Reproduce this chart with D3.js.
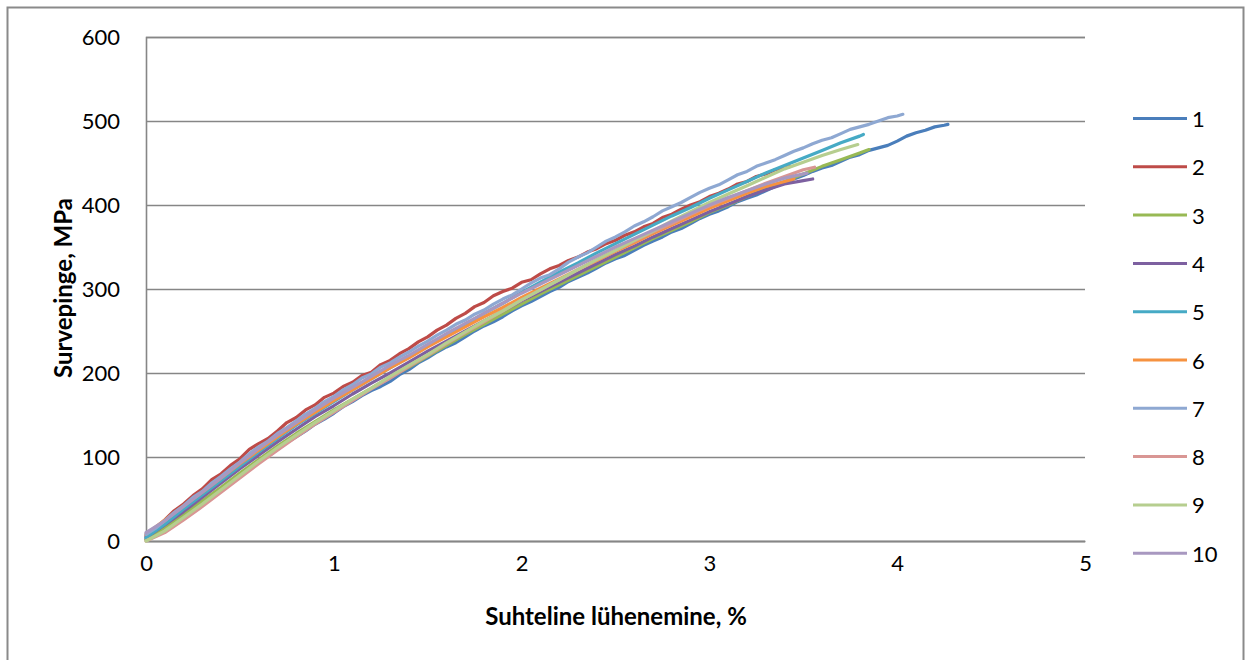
<!DOCTYPE html>
<html>
<head>
<meta charset="utf-8">
<script src="https://cdnjs.cloudflare.com/ajax/libs/d3/7.8.5/d3.min.js"></script>
<style>
  html, body { margin: 0; padding: 0; background: #ffffff; }
  svg { display: block; }
  text { font-family: Lato, "Open Sans", "Liberation Sans", sans-serif; fill: #000; }
</style>
</head>
<body>
<svg id="chart" width="1245" height="660"></svg>
<script>
// Compression tests: relative shortening (%) vs. compressive stress (MPa), ten specimens
const seriesNames = ["1", "2", "3", "4", "5", "6", "7", "8", "9", "10"];
const seriesColors = ["#4A7EBB", "#BE4B48", "#98B954", "#7D60A0", "#46AAC5",
                      "#F69240", "#8EA8D2", "#D99694", "#B6CE8F", "#A898C0"];

const xTicks = [0, 1, 2, 3, 4, 5];
const yTicks = [0, 100, 200, 300, 400, 500, 600];

// [strain %, stress MPa]
const s1 = [[0,2],[0.05,7],[0.1,14],[0.15,22],[0.2,29],[0.25,38],[0.3,45],[0.35,53],[0.4,61],[0.45,70],
  [0.5,77],[0.55,86],[0.6,94],[0.65,101],[0.7,109],[0.75,117],[0.8,124],[0.85,131],[0.9,139],[0.95,145],
  [1.0,152],[1.05,160],[1.1,166],[1.15,173],[1.2,179],[1.25,184],[1.3,190],[1.35,198],[1.4,204],[1.45,212],
  [1.5,218],[1.55,225],[1.6,231],[1.65,236],[1.7,243],[1.75,250],[1.8,256],[1.85,261],[1.9,267],[1.95,274],
  [2.0,280],[2.05,285],[2.1,291],[2.15,297],[2.2,302],[2.25,309],[2.3,314],[2.35,319],[2.4,325],[2.45,331],
  [2.5,336],[2.55,340],[2.6,346],[2.65,352],[2.7,357],[2.75,362],[2.8,368],[2.85,372],[2.9,378],[2.95,384],
  [3.0,389],[3.05,393],[3.1,398],[3.15,404],[3.2,408],[3.25,412],[3.3,417],[3.35,422],[3.4,426],[3.45,431],
  [3.5,435],[3.55,440],[3.6,444],[3.65,447],[3.7,452],[3.75,457],[3.8,460],[3.85,465],[3.9,468],[3.95,471],
  [4.0,476],[4.05,482],[4.1,486],[4.15,489],[4.2,493],[4.25,495],[4.27,496]];
const s2 = [[0,6],[0.05,15],[0.1,25],[0.15,36],[0.2,44],[0.25,54],[0.3,62],[0.35,73],[0.4,80],[0.45,90],
  [0.5,98],[0.55,109],[0.6,116],[0.65,122],[0.7,131],[0.75,141],[0.8,147],[0.85,156],[0.9,162],[0.95,171],
  [1.0,176],[1.05,184],[1.1,189],[1.15,197],[1.2,201],[1.25,210],[1.3,215],[1.35,223],[1.4,229],[1.45,237],
  [1.5,243],[1.55,251],[1.6,257],[1.65,265],[1.7,271],[1.75,279],[1.8,284],[1.85,292],[1.9,297],[1.95,301],
  [2.0,308],[2.05,311],[2.1,318],[2.15,324],[2.2,328],[2.25,334],[2.3,338],[2.35,344],[2.4,348],[2.45,354],
  [2.5,358],[2.55,364],[2.6,368],[2.65,374],[2.7,378],[2.75,385],[2.8,389],[2.85,395],[2.9,400],[2.95,404],
  [3.0,410],[3.05,414],[3.1,419],[3.15,425],[3.2,428],[3.25,434],[3.3,437],[3.35,442],[3.4,444],[3.43,446]];
const s3 = [[0,2],[0.1,16],[0.2,32],[0.3,48],[0.4,64],[0.5,81],[0.6,97],[0.7,113],[0.8,128],[0.9,142],
  [1.0,156],[1.1,169],[1.2,182],[1.3,195],[1.4,207],[1.5,220],[1.6,233],[1.7,246],[1.8,258],[1.9,270],
  [2.0,282],[2.1,294],[2.2,305],[2.3,316],[2.4,327],[2.5,338],[2.6,349],[2.7,360],[2.8,370],[2.9,380],
  [3.0,391],[3.1,400],[3.2,410],[3.3,419],[3.4,428],[3.5,437],[3.6,446],[3.7,454],[3.8,462],[3.85,466]];
const s4 = [[0,4],[0.1,19],[0.2,35],[0.3,52],[0.4,69],[0.5,86],[0.6,102],[0.7,118],[0.8,133],[0.9,148],
  [1.0,161],[1.1,175],[1.2,188],[1.3,200],[1.4,213],[1.5,226],[1.6,238],[1.7,250],[1.8,262],[1.9,274],
  [2.0,286],[2.1,297],[2.2,308],[2.3,319],[2.4,330],[2.5,341],[2.6,351],[2.7,362],[2.8,372],[2.9,382],
  [3.0,392],[3.1,401],[3.2,410],[3.3,418],[3.4,425],[3.5,429],[3.55,431]];
const s5 = [[0,4],[0.1,20],[0.2,38],[0.3,55],[0.4,72],[0.5,89],[0.6,106],[0.7,122],[0.8,138],[0.9,152],
  [1.0,166],[1.1,180],[1.2,193],[1.3,206],[1.4,219],[1.5,232],[1.6,245],[1.7,258],[1.8,271],[1.9,283],
  [2.0,296],[2.1,308],[2.2,320],[2.3,331],[2.4,343],[2.5,354],[2.6,365],[2.7,376],[2.8,387],[2.9,397],
  [3.0,408],[3.1,418],[3.2,428],[3.3,438],[3.4,447],[3.5,456],[3.6,465],[3.7,474],[3.8,482],[3.82,484]];
const s6 = [[0,8],[0.1,25],[0.2,42],[0.3,58],[0.4,75],[0.5,92],[0.6,108],[0.7,124],[0.8,139],[0.9,153],
  [1.0,167],[1.1,180],[1.2,193],[1.3,206],[1.4,218],[1.5,231],[1.6,243],[1.7,255],[1.8,267],[1.9,278],
  [2.0,290],[2.1,301],[2.2,312],[2.3,323],[2.4,334],[2.5,345],[2.6,355],[2.7,366],[2.8,376],[2.9,386],
  [3.0,396],[3.1,405],[3.2,414],[3.3,422],[3.4,428],[3.45,431]];
const s7 = [[0,8],[0.05,15],[0.1,24],[0.15,34],[0.2,42],[0.25,52],[0.3,59],[0.35,69],[0.4,77],[0.45,86],
  [0.5,94],[0.55,104],[0.6,112],[0.65,119],[0.7,128],[0.75,135],[0.8,143],[0.85,151],[0.9,158],[0.95,166],
  [1.0,172],[1.05,180],[1.1,186],[1.15,194],[1.2,199],[1.25,207],[1.3,212],[1.35,219],[1.4,225],[1.45,232],
  [1.5,238],[1.55,245],[1.6,251],[1.65,258],[1.7,263],[1.75,270],[1.8,275],[1.85,282],[1.9,288],[1.95,293],
  [2.0,300],[2.05,307],[2.1,313],[2.15,317],[2.2,324],[2.25,332],[2.3,338],[2.35,343],[2.4,350],[2.45,357],
  [2.5,362],[2.55,368],[2.6,375],[2.65,380],[2.7,386],[2.75,393],[2.8,398],[2.85,403],[2.9,409],[2.95,415],
  [3.0,420],[3.05,424],[3.1,430],[3.15,436],[3.2,440],[3.25,446],[3.3,450],[3.35,454],[3.4,459],[3.45,464],
  [3.5,468],[3.55,473],[3.6,477],[3.65,480],[3.7,485],[3.75,490],[3.8,493],[3.85,496],[3.9,500],[3.95,504],
  [4.0,506],[4.03,508]];
const s8 = [[0,0],[0.1,10],[0.2,25],[0.3,41],[0.4,58],[0.5,75],[0.6,92],[0.7,108],[0.8,124],[0.9,139],
  [1.0,153],[1.1,167],[1.2,181],[1.3,194],[1.4,208],[1.5,221],[1.6,235],[1.7,248],[1.8,261],[1.9,274],
  [2.0,287],[2.1,299],[2.2,311],[2.3,323],[2.4,335],[2.5,346],[2.6,357],[2.7,368],[2.8,378],[2.9,389],
  [3.0,399],[3.1,408],[3.2,417],[3.3,426],[3.4,434],[3.5,442],[3.56,445]];
const s9 = [[0,0],[0.1,12],[0.2,28],[0.3,44],[0.4,61],[0.5,78],[0.6,95],[0.7,111],[0.8,126],[0.9,141],
  [1.0,155],[1.1,169],[1.2,182],[1.3,196],[1.4,209],[1.5,222],[1.6,236],[1.7,249],[1.8,262],[1.9,274],
  [2.0,287],[2.1,299],[2.2,311],[2.3,323],[2.4,335],[2.5,346],[2.6,358],[2.7,369],[2.8,381],[2.9,392],
  [3.0,403],[3.1,413],[3.2,423],[3.3,433],[3.4,443],[3.5,451],[3.6,459],[3.7,466],[3.79,472]];
const s10 = [[0,10],[0.1,24],[0.2,41],[0.3,58],[0.4,75],[0.5,93],[0.6,110],[0.7,126],[0.8,141],[0.9,156],
  [1.0,170],[1.1,183],[1.2,196],[1.3,209],[1.4,221],[1.5,234],[1.6,247],[1.7,259],[1.8,271],[1.9,283],
  [2.0,295],[2.1,306],[2.2,317],[2.3,328],[2.4,339],[2.5,350],[2.6,360],[2.7,370],[2.8,380],[2.9,390],
  [3.0,400],[3.1,409],[3.2,417],[3.3,425],[3.4,432],[3.52,438]];

const seriesData = [s1, s2, s3, s4, s5, s6, s7, s8, s9, s10];

const svg = d3.select("#chart");
const W = 1245, H = 660;
const plot = { left: 146, right: 1085, top: 37, bottom: 541 };
const gridColor = "#868686";

// Chart frame
svg.append("rect")
  .attr("x", 7.5).attr("y", 7.5)
  .attr("width", W - 9).attr("height", H + 20)
  .attr("fill", "#fff").attr("stroke", "#8a8a8a").attr("stroke-width", 2);

const x = d3.scaleLinear().domain([0, 5]).range([plot.left, plot.right]);
const y = d3.scaleLinear().domain([0, 600]).range([plot.bottom, plot.top]);

// Horizontal gridlines and y-axis labels
const yAxis = d3.axisLeft(y).tickValues(yTicks).tickSize(-(plot.right - plot.left)).tickPadding(26)
  .tickFormat(d3.format("d"));
const gy = svg.append("g").attr("transform", `translate(${plot.left},0)`).call(yAxis);
gy.select(".domain").attr("stroke", gridColor).attr("stroke-width", 1.6);
gy.selectAll(".tick line").attr("stroke", gridColor).attr("stroke-width", 1.6);
gy.selectAll(".tick text").attr("font-size", 22).attr("fill", "#000")
  .style("font-family", "Lato, 'Open Sans', sans-serif");

// x-axis
const xAxis = d3.axisBottom(x).tickValues(xTicks).tickSize(0).tickPadding(26).tickFormat(d3.format("d"));
const gx = svg.append("g").attr("transform", `translate(0,${plot.bottom})`).call(xAxis);
gx.select(".domain").attr("stroke", gridColor).attr("stroke-width", 1.6);
gx.selectAll(".tick text").attr("font-size", 22).attr("fill", "#000").attr("dy", "0.2em")
  .style("font-family", "Lato, 'Open Sans', sans-serif");

// Curves
const line = d3.line().x(d => x(d[0])).y(d => y(d[1]));
svg.append("g").selectAll("path")
  .data(seriesData)
  .join("path")
  .attr("d", line)
  .attr("fill", "none")
  .attr("stroke", (d, i) => seriesColors[i])
  .attr("stroke-width", 3.2)
  .attr("stroke-linejoin", "round")
  .attr("stroke-linecap", "round");

// Axis titles
svg.append("text")
  .attr("x", 616).attr("y", 615)
  .attr("text-anchor", "middle").attr("dominant-baseline", "central")
  .attr("font-size", 24).attr("font-weight", "bold")
  .text("Suhteline lühenemine, %");

svg.append("text")
  .attr("transform", `translate(62,288) rotate(-90)`)
  .attr("text-anchor", "middle").attr("dominant-baseline", "central")
  .attr("font-size", 24).attr("font-weight", "bold")
  .text("Survepinge, MPa");

// Legend
const legend = svg.append("g").selectAll("g")
  .data(seriesNames)
  .join("g")
  .attr("transform", (d, i) => `translate(1133,${118.5 + i * 48.3})`);
legend.append("line")
  .attr("x1", 0).attr("x2", 54).attr("y1", 0).attr("y2", 0)
  .attr("stroke", (d, i) => seriesColors[i]).attr("stroke-width", 3);
legend.append("text")
  .attr("x", 59).attr("y", 0).attr("dominant-baseline", "central")
  .attr("font-size", 22)
  .text(d => d);
</script>
</body>
</html>
